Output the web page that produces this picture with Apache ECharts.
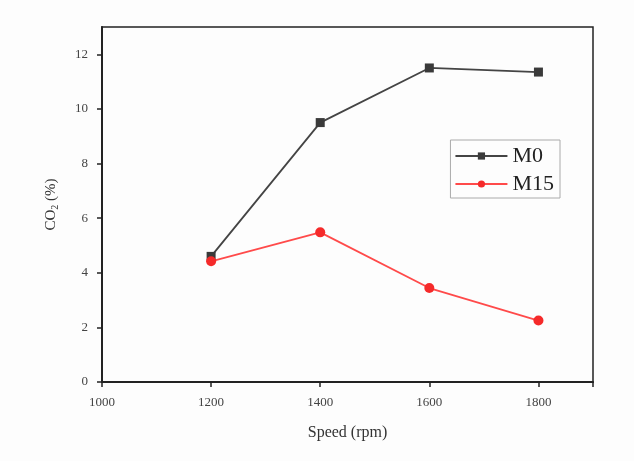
<!DOCTYPE html>
<html>
<head>
<meta charset="utf-8">
<title>CO2 vs speed</title>
<script src="https://cdn.jsdelivr.net/npm/echarts@6/dist/echarts.min.js"></script>
<style>
html,body{margin:0;padding:0;background:#fff;}
#main{width:634px;height:461px;}
</style>
</head>
<body>
<div id="main"></div>
<script>
// 转速 (rpm)
var speeds = [1200, 1400, 1600, 1800];
// CO2 (%)
var m0 = [4.6, 9.5, 11.5, 11.35];
var m15 = [4.42, 5.48, 3.44, 2.25];
var xTicks = [1000, 1200, 1400, 1600, 1800];

function pairs(xs, ys) {
    var out = [];
    for (var i = 0; i < xs.length; i++) out.push([xs[i], ys[i]]);
    return out;
}

var serif = 'Liberation Serif';
var myChart = echarts.init(document.getElementById('main'));

var option = {
    backgroundColor: '#fdfdfd',
    textStyle: {fontFamily: serif},
    grid: {
        left: 102, right: 41, top: 27, bottom: 79,
        show: true, borderColor: '#222', borderWidth: 1.5
    },
    legend: {
        right: 74, top: 140,
        orient: 'vertical',
        itemGap: 6,
        itemWidth: 52,
        itemHeight: 9,
        padding: [5, 6, 3, 4],
        borderColor: '#aaa',
        borderWidth: 1,
        textStyle: {fontFamily: serif, fontSize: 22, color: '#222'},
        data: ['M0', 'M15']
    },
    xAxis: {
        type: 'value',
        min: 1000, max: 1900, interval: 200,
        axisLine: {lineStyle: {color: '#222', width: 2}},
        axisTick: {length: 5, lineStyle: {color: '#222', width: 1.5}},
        splitLine: {show: false},
        axisLabel: {
            color: '#444', fontSize: 13, fontFamily: serif, margin: 14,
            formatter: function (v) { return xTicks.indexOf(v) >= 0 ? v : ''; }
        },
        name: 'Speed (rpm)',
        nameLocation: 'middle',
        nameGap: 43,
        nameTextStyle: {fontFamily: serif, fontSize: 16, color: '#333'}
    },
    yAxis: {
        type: 'value',
        min: 0, max: 13, interval: 2,
        axisLine: {show: true, lineStyle: {color: '#222', width: 2}},
        axisTick: {show: true, length: 5, lineStyle: {color: '#222', width: 1.5}},
        splitLine: {show: false},
        axisLabel: {
            color: '#444', fontSize: 13, fontFamily: serif, margin: 14,
            showMaxLabel: false
        },
        name: '{a|CO}{s|2}{a| (%)}',
        nameLocation: 'middle',
        nameGap: 42,
        nameTextStyle: {
            rich: {
                a: {fontFamily: serif, fontSize: 15, color: '#333'},
                s: {fontFamily: serif, fontSize: 10, color: '#333', padding: [8, 0, 0, 0]}
            }
        }
    },
    series: [
        {
            name: 'M0',
            type: 'line',
            data: pairs(speeds, m0),
            symbol: 'rect',
            symbolSize: 9,
            itemStyle: {color: '#3a3a3a'},
            lineStyle: {color: '#444', width: 1.8}
        },
        {
            name: 'M15',
            type: 'line',
            data: pairs(speeds, m15),
            symbol: 'circle',
            symbolSize: 10,
            itemStyle: {color: '#f52a2a'},
            lineStyle: {color: '#ff4a4a', width: 1.8}
        }
    ]
};

myChart.setOption(option);
</script>
</body>
</html>
